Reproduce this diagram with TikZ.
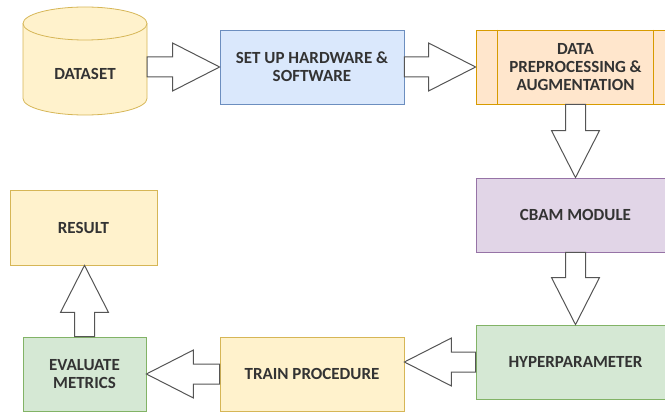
\documentclass[tikz,border=0pt]{standalone}
\usepackage{fontspec}
\setmainfont{Carlito}
\usetikzlibrary{calc}

\definecolor{ylwFill}{HTML}{FFF2CC}
\definecolor{ylwLine}{HTML}{D6B656}
\definecolor{bluFill}{HTML}{DAE8FC}
\definecolor{bluLine}{HTML}{6C8EBF}
\definecolor{orgFill}{HTML}{FFE6CC}
\definecolor{orgLine}{HTML}{D79B00}
\definecolor{prpFill}{HTML}{E1D5E7}
\definecolor{prpLine}{HTML}{9673A6}
\definecolor{grnFill}{HTML}{D5E8D4}
\definecolor{grnLine}{HTML}{82B366}
\definecolor{arrowGray}{HTML}{555555}
\definecolor{txtGray}{HTML}{333333}

\newcommand{\boxFont}{\fontsize{17}{18}\selectfont\bfseries}

\tikzset{
  stage/.style={draw, line width=0.8pt, minimum height=74pt, align=center,
    text=txtGray, font=\boxFont, inner sep=2pt},
  fatarrow/.style={draw=arrowGray, fill=white, line width=1pt, line join=miter,
    to path={let \p1=(\tikztostart), \p2=(\tikztotarget), \p3=($(\p2)!47pt!(\p1)$) in
      ($(\p1)!10pt!90:(\p2)$) -- ($(\p3)!10pt!90:(\p2)$) -- ($(\p3)!24pt!90:(\p2)$)
      -- (\p2) -- ($(\p3)!24pt!-90:(\p2)$) -- ($(\p3)!10pt!-90:(\p2)$)
      -- ($(\p1)!10pt!-90:(\p2)$) -- cycle}}
}

\begin{document}
\begin{tikzpicture}[x=1pt, y=-1pt]

    % page
    \path[use as bounding box, clip] (0,0) rectangle (665,412);

    % dataset (cylinder)
    \fill[ylwFill] (23,23.5) -- (23,98.5) arc[start angle=180, end angle=0, x radius=62, y radius=16.5] -- (147,23.5) -- cycle;
    \draw[ylwLine, line width=0.8pt] (23,23.5) -- (23,98.5) arc[start angle=180, end angle=0, x radius=62, y radius=16.5] -- (147,23.5);
    \draw[ylwLine, fill=ylwFill, line width=0.8pt] (85,23.5) ellipse[x radius=62, y radius=16.5];
    \node[minimum width=124pt, text=txtGray, font=\boxFont] (dataset) at (85,74) {DATASET};

    % first row
    \node[stage, fill=bluFill, draw=bluLine, minimum width=184pt] (setup) at (312,67) {SET UP HARDWARE \&\\SOFTWARE};
    \node[stage, fill=orgFill, draw=orgLine, minimum width=199pt] (prep) at (575.5,67) {DATA\\PREPROCESSING \&\\AUGMENTATION};
    \draw[orgLine, line width=0.8pt] ([xshift=22pt]prep.north west) -- ([xshift=22pt]prep.south west);
    \draw[orgLine, line width=0.8pt] ([xshift=-22pt]prep.north east) -- ([xshift=-22pt]prep.south east);

    % right column
    \node[stage, fill=prpFill, draw=prpLine, minimum width=199pt] (cbam) at (575.5,215) {CBAM MODULE};
    \node[stage, fill=grnFill, draw=grnLine, minimum width=199pt] (hyper) at (575.5,362) {HYPERPARAMETER};

    % bottom row
    \node[stage, fill=ylwFill, draw=ylwLine, minimum width=184pt] (train) at (312,374) {TRAIN PROCEDURE};
    \node[stage, fill=grnFill, draw=grnLine, minimum width=123pt] (eval) at (84.5,374) {EVALUATE\\METRICS};
    \node[stage, fill=ylwFill, draw=ylwLine, minimum width=147pt, minimum height=75pt] (result) at (83.5,227.5) {RESULT};

    % block arrows
    \draw[fatarrow] (setup.west -| dataset.east) to (setup.west);
    \draw[fatarrow] (setup.east) to (prep.west);
    \draw[fatarrow] (prep.south) to (cbam.north);
    \draw[fatarrow] (cbam.south) to (hyper.north);
    \draw[fatarrow] (hyper.west) to (hyper.west -| train.east);
    \draw[fatarrow] (train.west) to (eval.east);
    \draw[fatarrow] (eval.north) to (eval.north |- result.south);

\end{tikzpicture}
\end{document}
